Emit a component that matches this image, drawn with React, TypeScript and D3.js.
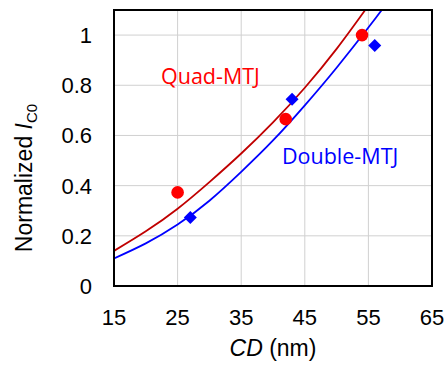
import React from "react";
import * as d3 from "d3";

// Fitted curves
const quadCurveCD = [15, 20, 25, 30, 35, 40, 45, 50, 54.5];
const quadCurveY = [0.14, 0.218, 0.308, 0.414, 0.528, 0.652, 0.79, 0.945, 1.1];
const doubleCurveCD = [15, 20, 25, 30, 35, 40, 45, 50, 55, 57.1];
const doubleCurveY = [0.11, 0.17, 0.245, 0.34, 0.455, 0.58, 0.72, 0.87, 1.03, 1.1];

// Measured points
const quadPointsCD = [25, 42, 54];
const quadPointsY = [0.373, 0.665, 1.0];
const doublePointsCD = [27, 43, 56];
const doublePointsY = [0.273, 0.744, 0.959];

const xTicks = [15, 25, 35, 45, 55, 65];
const yTicks = [0, 0.2, 0.4, 0.6, 0.8, 1];
const yTickLabels = ["0", "0.2", "0.4", "0.6", "0.8", "1"];

const W = 447;
const H = 367;
const left = 114;
const right = 432;
const top = 10;
const bottom = 286;

export default function App() {
  const x = d3.scaleLinear().domain([15, 65]).range([left, right]);
  const y = d3.scaleLinear().domain([0, 1.1]).range([bottom, top]);
  const line = d3
    .line<[number, number]>()
    .x((d) => x(d[0]))
    .y((d) => y(d[1]))
    .curve(d3.curveNatural);
  const quadPath = line(quadCurveCD.map((c, i) => [c, quadCurveY[i]]));
  const doublePath = line(doubleCurveCD.map((c, i) => [c, doubleCurveY[i]]));
  const sans = "Liberation Sans, Arial, sans-serif";
  const lbl = "Open Sans, Noto Sans, sans-serif";
  const ds = 6.5;

  return (
    <svg
      width={W}
      height={H}
      style={{ position: "absolute", left: 0, top: 0, background: "#fff" }}
    >
      <defs>
        <clipPath id="plot">
          <rect x={left} y={top} width={right - left} height={bottom - top} />
        </clipPath>
      </defs>
      {xTicks.slice(1, -1).map((t) => (
        <line key={"gx" + t} x1={x(t)} x2={x(t)} y1={top} y2={bottom} stroke="#d0d0d0" strokeWidth={1} />
      ))}
      {yTicks.slice(1).map((t) => (
        <line key={"gy" + t} x1={left} x2={right} y1={y(t)} y2={y(t)} stroke="#d0d0d0" strokeWidth={1} />
      ))}
      <g clipPath="url(#plot)">
        <path d={quadPath || ""} fill="none" stroke="#C00000" strokeWidth={1.8} />
        <path d={doublePath || ""} fill="none" stroke="#0000FF" strokeWidth={1.8} />
      </g>
      {quadPointsCD.map((c, i) => (
        <circle key={"q" + i} cx={x(c)} cy={y(quadPointsY[i])} r={6.3} fill="#FF0000" />
      ))}
      {doublePointsCD.map((c, i) => {
        const cx = x(c);
        const cy = y(doublePointsY[i]);
        return (
          <path
            key={"d" + i}
            d={`M${cx},${cy - ds}L${cx + ds},${cy}L${cx},${cy + ds}L${cx - ds},${cy}Z`}
            fill="#0000FF"
          />
        );
      })}
      <rect x={left} y={top} width={right - left} height={bottom - top} fill="none" stroke="#000" strokeWidth={2} />
      {xTicks.map((t) => (
        <text key={"xt" + t} x={x(t)} y={325} textAnchor="middle" fontFamily={sans} fontSize={22} fill="#000">
          {t}
        </text>
      ))}
      {yTicks.map((t, i) => (
        <text key={"yt" + t} x={92} y={y(t) + 8} textAnchor="end" fontFamily={sans} fontSize={22} fill="#000">
          {yTickLabels[i]}
        </text>
      ))}
      <text x={273} y={356} textAnchor="middle" fontFamily={sans} fontSize={23} fill="#000">
        <tspan fontStyle="italic">CD</tspan> (nm)
      </text>
      <text
        transform={`translate(32,178) rotate(-90)`}
        textAnchor="middle"
        fontFamily={sans}
        fontSize={23}
        fill="#000"
      >
        Normalized <tspan fontStyle="italic">I</tspan>
        <tspan fontSize={15} dy={5}>C0</tspan>
      </text>
      <text x={161} y={84} fontFamily={lbl} fontSize={21.5} fill="#FF0000">
        Quad-MTJ
      </text>
      <text x={282} y={164} fontFamily={lbl} fontSize={21.5} fill="#0000FF">
        Double-MTJ
      </text>
    </svg>
  );
}
